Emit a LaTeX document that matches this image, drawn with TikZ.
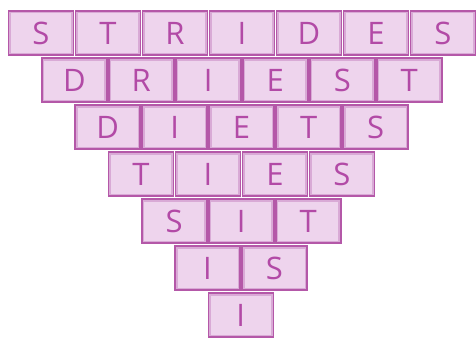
\documentclass[tikz,border=0pt]{standalone}
\usepackage{fontspec}
\setmainfont{Open Sans}
\usepackage{xcolor}
\usepackage{tikz}
\usetikzlibrary{positioning}

\definecolor{tileface}{HTML}{EED4ED}
\definecolor{tileshade}{HTML}{D9AAD6}
\definecolor{tileedge}{HTML}{B458A8}
\definecolor{letterpink}{HTML}{B24AA6}

\begin{document}
\begin{tikzpicture}[
  x=1pt, y=1pt,
  tile/.style={rectangle, draw=tileedge, line width=1.6pt, fill=tileface,
               path picture={\draw[tileshade, line width=5pt]
                 (path picture bounding box.south west) rectangle (path picture bounding box.north east);},
               minimum width=65pt, minimum height=44pt, inner sep=0pt,
               font=\fontsize{31}{31}\selectfont, text=letterpink},
  gap/.style={right=0.4pt of #1}
]
\useasboundingbox (0,0) rectangle (476,341);
% row 1
\node[tile] (a1) at (41,308) {S};
\node[tile, gap=a1] (a2) {T};
\node[tile, gap=a2] (a3) {R};
\node[tile, gap=a3] (a4) {I};
\node[tile, gap=a4] (a5) {D};
\node[tile, gap=a5] (a6) {E};
\node[tile, gap=a6] (a7) {S};
% row 2
\node[tile, anchor=north west] (b1) at ([yshift=-1.4pt]a1.south) {D};
\node[tile, gap=b1] (b2) {R};
\node[tile, gap=b2] (b3) {I};
\node[tile, gap=b3] (b4) {E};
\node[tile, gap=b4] (b5) {S};
\node[tile, gap=b5] (b6) {T};
% row 3
\node[tile, anchor=north west] (c1) at ([yshift=-1.4pt]b1.south) {D};
\node[tile, gap=c1] (c2) {I};
\node[tile, gap=c2] (c3) {E};
\node[tile, gap=c3] (c4) {T};
\node[tile, gap=c4] (c5) {S};
% row 4
\node[tile, anchor=north west] (d1) at ([yshift=-1.4pt]c1.south) {T};
\node[tile, gap=d1] (d2) {I};
\node[tile, gap=d2] (d3) {E};
\node[tile, gap=d3] (d4) {S};
% row 5
\node[tile, anchor=north west] (e1) at ([yshift=-1.4pt]d1.south) {S};
\node[tile, gap=e1] (e2) {I};
\node[tile, gap=e2] (e3) {T};
% row 6
\node[tile, anchor=north west] (f1) at ([yshift=-1.4pt]e1.south) {I};
\node[tile, gap=f1] (f2) {S};
% row 7
\node[tile, anchor=north west] (g1) at ([yshift=-1.4pt]f1.south) {I};
\end{tikzpicture}
\end{document}
